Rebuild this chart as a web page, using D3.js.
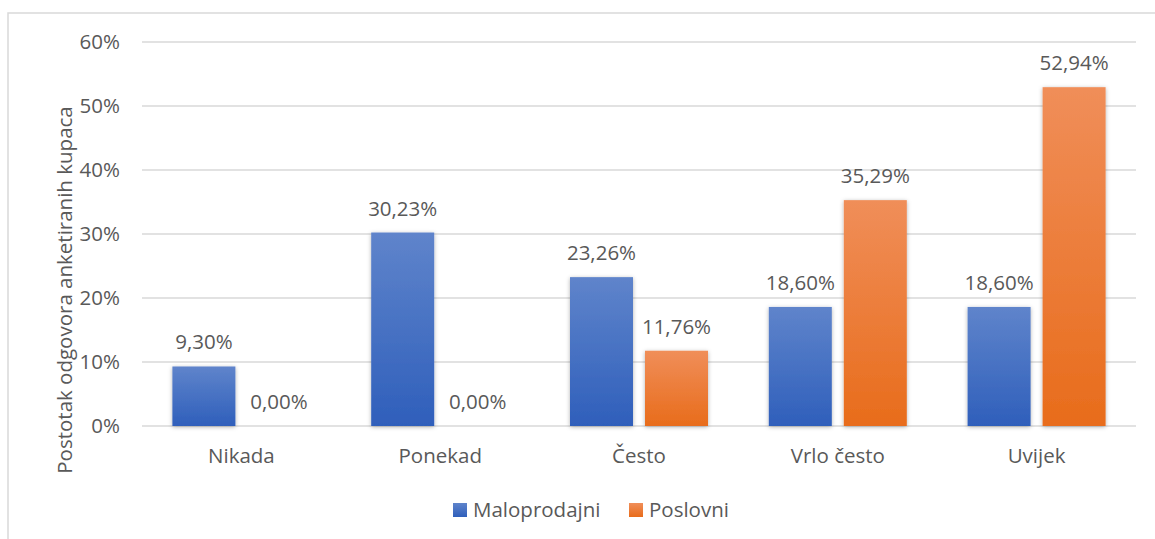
<!DOCTYPE html>
<html>
<head>
<meta charset="utf-8">
<script src="https://cdn.jsdelivr.net/npm/d3@7"></script>
<style>
  body { margin: 0; background: #fff; }
  text { font-family: "Open Sans", sans-serif; fill: #595959; }
</style>
</head>
<body>
<svg id="chart"></svg>
<script>
let width = 1155,
    height = 539;

const categories = ["Nikada", "Ponekad", "Često", "Vrlo često", "Uvijek"];
const seriesNames = ["Maloprodajni", "Poslovni"];
const maloprodajni = [9.30, 30.23, 23.26, 18.60, 18.60];
const poslovni = [0.00, 0.00, 11.76, 35.29, 52.94];
const yTicks = [0, 10, 20, 30, 40, 50, 60];

const margin = {left: 142, right: 19, top: 42, bottom: 113};
const fs = "20.5px";

const svg = d3.select("#chart")
  .attr("width", width)
  .attr("height", height);

// gradients + shadow
const defs = svg.append("defs");
const grads = [
  {id: "gBlue", top: "#5f84cb", bot: "#2f5fbb"},
  {id: "gOrange", top: "#f08e59", bot: "#e86c1b"}
];
grads.forEach((g) => {
  const lg = defs.append("linearGradient").attr("id", g.id)
    .attr("x1", 0).attr("y1", 0).attr("x2", 0).attr("y2", 1);
  lg.append("stop").attr("offset", "0%").attr("stop-color", g.top);
  lg.append("stop").attr("offset", "100%").attr("stop-color", g.bot);
});
const f = defs.append("filter").attr("id", "shadow")
  .attr("x", "-20%").attr("y", "-10%").attr("width", "140%").attr("height", "120%");
f.append("feDropShadow").attr("dx", 0).attr("dy", 1).attr("stdDeviation", 2)
  .attr("flood-color", "#000").attr("flood-opacity", 0.3);

// chart border
svg.append("rect")
  .attr("x", 8).attr("y", 13)
  .attr("width", width + 10).attr("height", height + 10)
  .attr("fill", "none").attr("stroke", "#d9d9d9").attr("stroke-width", 1.5);

const x = d3.scaleBand()
  .domain(categories)
  .range([margin.left, width - margin.right]);

const y = d3.scaleLinear()
  .domain([0, 60])
  .range([height - margin.bottom, margin.top]);

// gridlines
svg.append("g")
  .selectAll("line")
  .data(yTicks)
  .enter()
  .append("line")
  .attr("x1", margin.left).attr("x2", width - margin.right)
  .attr("y1", d => y(d)).attr("y2", d => y(d))
  .style("stroke", "#d9d9d9")
  .style("stroke-width", 1.5);

// y axis labels
svg.append("g")
  .selectAll("text")
  .data(yTicks)
  .enter()
  .append("text")
  .attr("x", 120)
  .attr("y", d => y(d))
  .attr("dy", "0.35em")
  .attr("text-anchor", "end")
  .style("font-size", fs)
  .text(d => d + "%");

// y axis title
svg.append("text")
  .attr("transform", "translate(72,290) rotate(-90)")
  .attr("text-anchor", "middle")
  .style("font-size", fs)
  .text("Postotak odgovora anketiranih kupaca");

// x labels
svg.append("g")
  .selectAll("text")
  .data(categories)
  .enter()
  .append("text")
  .attr("x", d => x(d) + x.bandwidth() / 2)
  .attr("y", 463)
  .attr("text-anchor", "middle")
  .style("font-size", fs)
  .text(d => d);

const barW = 63, gap = 12;
const series = [
  {name: seriesNames[0], values: maloprodajni, fill: "url(#gBlue)", off: -gap / 2 - barW},
  {name: seriesNames[1], values: poslovni, fill: "url(#gOrange)", off: gap / 2}
];

const fmt = v => v.toFixed(2).replace(".", ",") + "%";

series.forEach((s) => {
  const g = svg.append("g");
  g.selectAll("rect")
    .data(categories)
    .enter()
    .filter((d, i) => s.values[i] > 0)
    .append("rect")
    .attr("x", d => x(d) + x.bandwidth() / 2 + s.off)
    .attr("y", d => y(s.values[categories.indexOf(d)]))
    .attr("width", barW)
    .attr("height", d => y(0) - y(s.values[categories.indexOf(d)]))
    .attr("fill", s.fill)
    .attr("filter", "url(#shadow)");
  g.selectAll("text")
    .data(categories)
    .enter()
    .append("text")
    .attr("x", d => x(d) + x.bandwidth() / 2 + s.off + barW / 2)
    .attr("y", (d, i) => y(s.values[i]) - 17)
    .attr("text-anchor", "middle")
    .style("font-size", fs)
    .text((d, i) => fmt(s.values[i]));
});

// legend
const legend = svg.append("g");
const legendItems = [
  {name: seriesNames[0], fill: "url(#gBlue)", x: 453},
  {name: seriesNames[1], fill: "url(#gOrange)", x: 629}
];
legendItems.forEach((l) => {
  legend.append("rect")
    .attr("x", l.x).attr("y", 503)
    .attr("width", 14).attr("height", 14)
    .attr("fill", l.fill);
  legend.append("text")
    .attr("x", l.x + 20).attr("y", 510)
    .attr("dy", "0.35em")
    .style("font-size", fs)
    .text(l.name);
});
</script>
</body>
</html>
